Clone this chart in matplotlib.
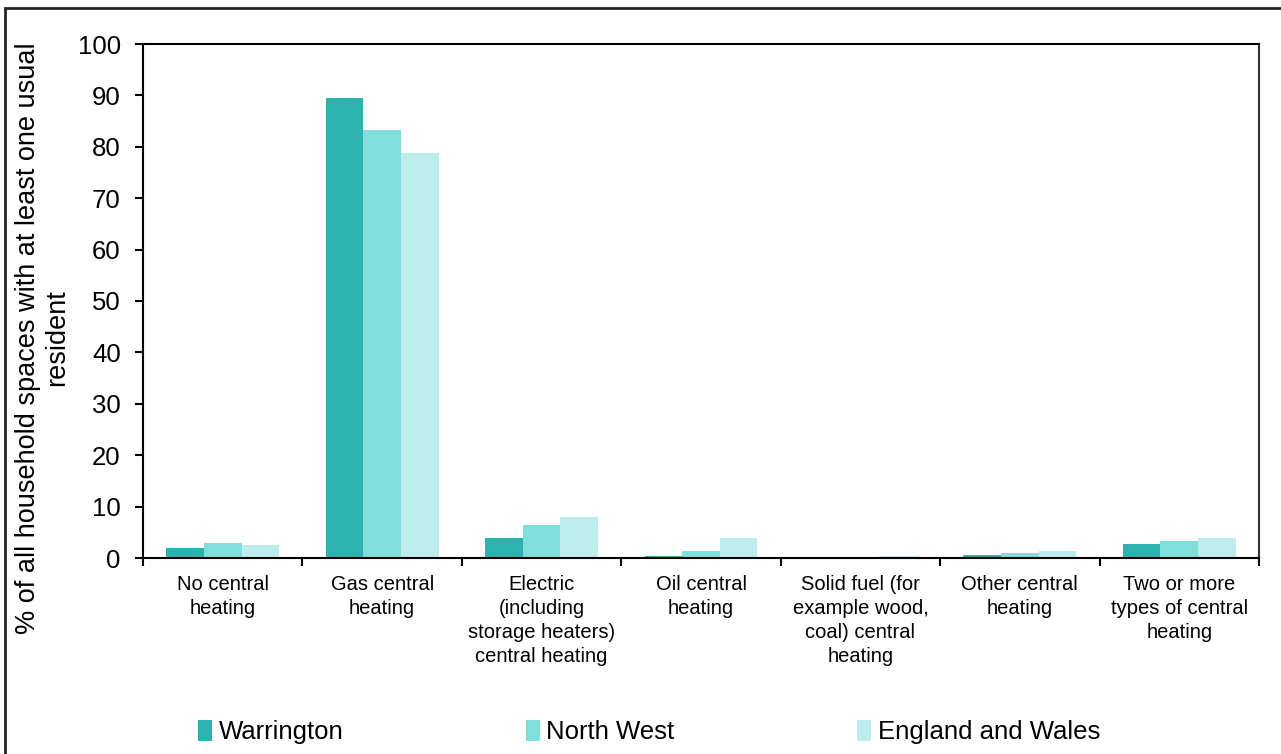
import numpy as np
import matplotlib.pyplot as plt
from matplotlib.patches import Rectangle

plt.rcParams['font.family'] = ['Liberation Sans', 'DejaVu Sans']

categories = ['No central\nheating',
              'Gas central\nheating',
              'Electric\n(including\nstorage heaters)\ncentral heating',
              'Oil central\nheating',
              'Solid fuel (for\nexample wood,\ncoal) central\nheating',
              'Other central\nheating',
              'Two or more\ntypes of central\nheating']
series = ['Warrington', 'North West', 'England and Wales']
warrington = [2.0, 89.4, 3.8, 0.4, 0.1, 0.5, 2.7]
north_west = [2.9, 83.2, 6.5, 1.4, 0.25, 1.0, 3.4]
england_wales = [2.5, 78.8, 7.9, 3.9, 0.45, 1.4, 3.9]
colors = ['#2db3af', '#80dfdc', '#bdecec']

fig = plt.figure(figsize=(12.81, 7.54), dpi=100)
ax = fig.add_axes([143 / 1281, 1 - 558 / 754, (1259 - 143) / 1281, (558 - 44) / 754])

x = np.arange(len(categories))
w = 0.236
for i, (name, vals) in enumerate(zip(series, [warrington, north_west, england_wales])):
    ax.bar(x + (i - 1) * w, vals, width=w, color=colors[i], label=name, zorder=2)

ax.set_xlim(-0.5, len(categories) - 0.5)
ax.set_ylim(0, 100)
ax.set_yticks(range(0, 101, 10))
ax.tick_params(axis='y', labelsize=18.5, length=6, width=1.5, pad=10)

ax.set_xticks(x)
ax.set_xticklabels(categories, fontsize=14.5, linespacing=1.33)
ax.tick_params(axis='x', which='major', length=0, pad=12)
ax.set_xticks(np.arange(-0.5, len(categories)), minor=True)
ax.tick_params(axis='x', which='minor', length=6, width=1.5, direction='out')

for s in ax.spines.values():
    s.set_linewidth(1.5)
    s.set_color('black')
ax.spines['right'].set_color('#333333')

fig.text(0.033, 1 - 338 / 754,
         '% of all household spaces with at least one usual\nresident',
         rotation=90, ha='center', va='center', fontsize=19.5, linespacing=1.15)

ax.legend(loc='center left', bbox_to_anchor=(175 / 1281, 1 - 732 / 754),
          bbox_transform=fig.transFigure, ncol=3, frameon=False, fontsize=18.5,
          handlelength=0.55, handleheight=0.9, handletextpad=0.25, columnspacing=7.1)

fig.patches.append(Rectangle((5 / 1281, -0.05), 1.1, 0.05 + 1 - 8 / 754,
                             transform=fig.transFigure, fill=False,
                             edgecolor='#222222', linewidth=2))

fig.savefig('out.png', dpi=100)
